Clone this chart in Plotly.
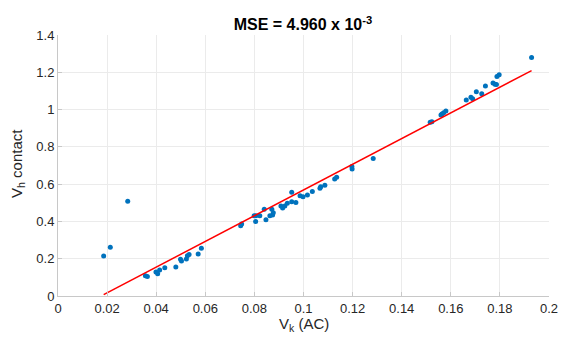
import plotly.graph_objects as go
import numpy as np

# Measured values
v_k = [0.0186, 0.0213, 0.0284, 0.0356, 0.0364, 0.0399, 0.0406, 0.0414, 0.0435, 0.0480,
       0.0499, 0.0503, 0.0523, 0.0527, 0.0534, 0.0571, 0.0584, 0.0744, 0.0748, 0.0799,
       0.0805, 0.0806, 0.0822, 0.0840, 0.0847, 0.0863, 0.0871, 0.0874, 0.0877, 0.0908,
       0.0915, 0.0924, 0.0934, 0.0952, 0.0952, 0.0969, 0.0986, 0.0998, 0.1016, 0.1036,
       0.1067, 0.1070, 0.1087, 0.1127, 0.1135, 0.1197, 0.1198, 0.1284, 0.1516, 0.1523,
       0.1560, 0.1564, 0.1571, 0.1580, 0.1663, 0.1682, 0.1689, 0.1704, 0.1726, 0.1741,
       0.1772, 0.1780, 0.1786, 0.1788, 0.1797, 0.1929]
v_h = [0.215, 0.261, 0.508, 0.109, 0.104, 0.129, 0.120, 0.139, 0.152, 0.156,
       0.197, 0.188, 0.199, 0.216, 0.222, 0.225, 0.256, 0.377, 0.386, 0.431,
       0.399, 0.431, 0.431, 0.465, 0.409, 0.431, 0.465, 0.435, 0.447, 0.483,
       0.472, 0.483, 0.497, 0.556, 0.506, 0.501, 0.538, 0.533, 0.542, 0.560,
       0.578, 0.586, 0.594, 0.628, 0.637, 0.694, 0.681, 0.737, 0.932, 0.935,
       0.971, 0.976, 0.983, 0.992, 1.051, 1.066, 1.058, 1.096, 1.085, 1.127,
       1.143, 1.136, 1.134, 1.177, 1.187, 1.279]

# Linear fit coefficients
fit_slope = 6.896
fit_intercept = -0.121

x_fit = np.array([min(v_k), max(v_k)])
y_fit = fit_slope * x_fit + fit_intercept

FONT = "Liberation Sans, Arial, Helvetica, sans-serif"

fig = go.Figure()
fig.add_trace(go.Scatter(
    x=v_k, y=v_h, mode="markers",
    marker=dict(color="#0072BD", size=5, line=dict(width=0)),
    showlegend=False,
))
fig.add_trace(go.Scatter(
    x=x_fit, y=y_fit, mode="lines",
    line=dict(color="#FF0000", width=1.5),
    showlegend=False,
))

axis_common = dict(
    showgrid=True, gridcolor="#ebebeb", gridwidth=1,
    zeroline=False, showline=True, linecolor="#c8c8c8", linewidth=1,
    ticks="inside", ticklen=4, tickcolor="#c8c8c8",
    tickfont=dict(family=FONT, size=13, color="#262626"),
    mirror=False, automargin=False,
)

fig.update_layout(
    width=563, height=338,
    margin=dict(l=58, r=14, t=35, b=42, autoexpand=False),
    paper_bgcolor="white", plot_bgcolor="white",
    title=dict(
        text="<b>MSE = 4.960 x 10<sup>-3</sup></b>",
        x=0.538, xanchor="center", y=0.927, yanchor="middle",
        font=dict(family=FONT, size=16, color="black"),
    ),
    xaxis=dict(range=[0, 0.2], dtick=0.02, tick0=0, **axis_common),
    yaxis=dict(range=[0, 1.4], dtick=0.2, tick0=0, **axis_common),
    annotations=[
        dict(text="V<sub>k</sub> (AC)", xref="paper", yref="paper",
             x=0.5, y=0, xanchor="center", yanchor="middle", yshift=-28,
             showarrow=False, font=dict(family=FONT, size=15, color="#262626")),
        dict(text="V<sub>h</sub> contact", xref="paper", yref="paper",
             x=0, y=0.506, xanchor="center", yanchor="middle", xshift=-40,
             textangle=-90, showarrow=False,
             font=dict(family=FONT, size=15, color="#262626")),
    ],
)

fig.write_html("out.html")
